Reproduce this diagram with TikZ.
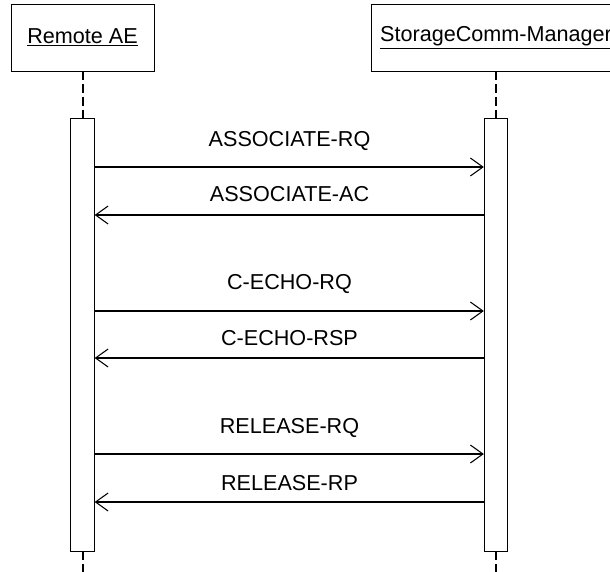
\documentclass[tikz,border=0pt]{standalone}
\usepackage{fontspec}
\setmainfont{Liberation Sans}
\usetikzlibrary{arrows.meta}
\begin{document}
\begin{tikzpicture}[x=0.75pt,y=-0.75pt,
  every node/.style={font=\fontsize{16.2pt}{19pt}\selectfont, inner sep=0pt},
  head/.style={draw, line width=0.75pt, minimum height=50.25pt, fill=white},
  bar/.style={draw, line width=0.75pt, minimum width=17.5pt, minimum height=324.75pt, fill=white},
  life/.style={line width=1.5pt, dash pattern=on 6.5pt off 3pt},
  msg/.style={draw, line width=0.8pt, -{Straight Barb[length=9.4pt, width=13.5pt, line width=0.8pt]}},
  lbl/.style={anchor=base}]
\useasboundingbox (0,0) rectangle (610,571);
\clip (0,0) rectangle (610,571);
% lifeline heads
\node[head, minimum width=107.25pt] (lhead) at (82.5,37.5) {\underline{Remote AE}};
\node[head, minimum width=187.5pt] (rhead) at (496,37.5) {\underline{StorageComm-Manager}};
% activation bars
\node[bar] (lbar) at (82.5,334.5) {};
\node[bar] (rbar) at (496,334.5) {};
% bottom ends
\coordinate (lend) at (82.5,575);
\coordinate (rend) at (496,575);
% lifelines
\draw[life] (lhead.south) -- (lbar.north);
\draw[life] (rhead.south) -- (rbar.north);
\draw[life] (lbar.south) -- (lend);
\draw[life] (rbar.south) -- (rend);
% messages
\draw[msg] (lbar.east |- 0,167) -- (rbar.west |- 0,167);
\node[lbl] (m1) at (289.5,146) {ASSOCIATE-RQ};
\draw[msg] (rbar.west |- 0,215) -- (lbar.east |- 0,215);
\node[lbl] (m2) at (289.5,201) {ASSOCIATE-AC};
\draw[msg] (lbar.east |- 0,311) -- (rbar.west |- 0,311);
\node[lbl] (m3) at (289.5,289) {C-ECHO-RQ};
\draw[msg] (rbar.west |- 0,358) -- (lbar.east |- 0,358);
\node[lbl] (m4) at (289.5,345) {C-ECHO-RSP};
\draw[msg] (lbar.east |- 0,454) -- (rbar.west |- 0,454);
\node[lbl] (m5) at (289.5,433) {RELEASE-RQ};
\draw[msg] (rbar.west |- 0,502) -- (lbar.east |- 0,502);
\node[lbl] (m6) at (289.5,490) {RELEASE-RP};
\end{tikzpicture}
\end{document}
